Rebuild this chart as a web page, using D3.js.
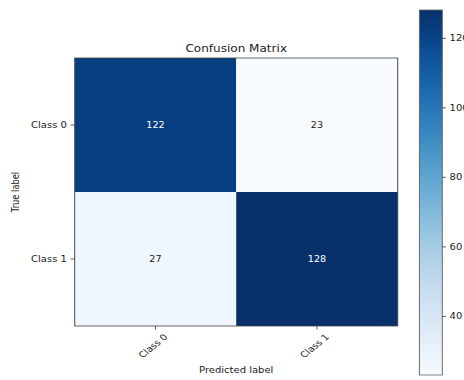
<!DOCTYPE html>
<html>
<head>
<meta charset="utf-8">
<script src="https://cdn.jsdelivr.net/npm/d3@7"></script>
<style>
	body { margin: 0; background: #fff; }
	text { font-family: "DejaVu Sans", sans-serif; fill: #222; }
</style>
</head>
<body>
<svg id="chart"></svg>
<script>
// chart data
let classes = ['Class 0', 'Class 1'];
let matrix = [
	[122, 23],
	[27, 128]
];
let colorbarTicks = [40, 60, 80, 100, 120];

// the reference is a square plot stretched sideways, so draw in a
// narrower space and let the viewBox stretch it
let W = 385, H = 380;
let svg = d3.select('#chart')
	.attr('width', 464)
	.attr('height', 380)
	.attr('viewBox', '0 0 ' + W + ' ' + H)
	.attr('preserveAspectRatio', 'none');

let allValues = matrix.flat();
let vmin = d3.min(allValues), vmax = d3.max(allValues);
let color = d3.scaleSequential(d3.interpolateBlues).domain([vmin, vmax]);

let x = d3.scaleBand().domain(classes).range([62, 330]);
let y = d3.scaleBand().domain(classes).range([58, 326]);

// cells
let cells = [];
matrix.forEach((row, i) => {
	row.forEach((v, j) => {
		cells.push({row: classes[i], col: classes[j], value: v});
	});
});

svg.selectAll('rect.cell')
	.data(cells)
	.enter().append('rect')
	.attr('class', 'cell')
	.attr('x', d => x(d.col))
	.attr('y', d => y(d.row))
	.attr('width', x.bandwidth())
	.attr('height', y.bandwidth())
	.attr('fill', d => color(d.value));

let thresh = vmax / 2;
svg.selectAll('text.cellval')
	.data(cells)
	.enter().append('text')
	.attr('class', 'cellval')
	.attr('x', d => x(d.col) + x.bandwidth() / 2)
	.attr('y', d => y(d.row) + y.bandwidth() / 2)
	.attr('dy', '0.35em')
	.attr('text-anchor', 'middle')
	.style('font-size', '8px')
	.style('fill', d => d.value > thresh ? '#fff' : '#222')
	.text(d => d.value);

// frame around the matrix
svg.append('rect')
	.attr('x', 62).attr('y', 58)
	.attr('width', 268).attr('height', 268)
	.attr('fill', 'none')
	.attr('stroke', '#444')
	.attr('stroke-width', 0.8);

// axes
let yAxis = svg.append('g')
	.attr('transform', 'translate(62,0)')
	.call(d3.axisLeft(y).tickSize(3.5).tickPadding(3));
let xAxis = svg.append('g')
	.attr('transform', 'translate(0,326)')
	.call(d3.axisBottom(x).tickSize(3.5).tickPadding(3));

[xAxis, yAxis].forEach(g => {
	g.select('.domain').remove();
	g.selectAll('line').attr('stroke', '#444').attr('stroke-width', 0.8);
	g.selectAll('text').style('font-size', '8.3px').style('fill', '#222')
		.attr('font-family', null);
});

xAxis.selectAll('text')
	.attr('text-anchor', 'middle')
	.attr('y', 0).attr('dy', 0)
	.attr('transform', 'translate(0,22) rotate(-45)');

// titles
svg.append('text')
	.attr('x', 196).attr('y', 52)
	.attr('text-anchor', 'middle')
	.style('font-size', '10px')
	.text('Confusion Matrix');

svg.append('text')
	.attr('x', 196).attr('y', 373)
	.attr('text-anchor', 'middle')
	.style('font-size', '8.3px')
	.text('Predicted label');

svg.append('text')
	.attr('transform', 'translate(16,192) rotate(-90)')
	.attr('text-anchor', 'middle')
	.style('font-size', '8.3px')
	.text('True label');

// colorbar
let cbX = 348, cbW = 19;
let cbScale = d3.scaleLinear().domain([vmin, vmax]).range([375, 10]);

let grad = svg.append('defs').append('linearGradient')
	.attr('id', 'cbgrad')
	.attr('x1', 0).attr('y1', 1).attr('x2', 0).attr('y2', 0);
d3.range(0, 1.0001, 0.1).forEach(t => {
	grad.append('stop')
		.attr('offset', t)
		.attr('stop-color', d3.interpolateBlues(t));
});

svg.append('rect')
	.attr('x', cbX).attr('y', 10)
	.attr('width', cbW).attr('height', 365)
	.attr('fill', 'url(#cbgrad)')
	.attr('stroke', '#666')
	.attr('stroke-width', 0.8);

let cbAxis = svg.append('g')
	.attr('transform', 'translate(' + (cbX + cbW) + ',0)')
	.call(d3.axisRight(cbScale).tickValues(colorbarTicks).tickSize(3).tickPadding(3));
cbAxis.select('.domain').remove();
cbAxis.selectAll('line').attr('stroke', '#444').attr('stroke-width', 0.8);
cbAxis.selectAll('text').style('font-size', '8.3px').style('fill', '#222')
	.attr('font-family', null);
</script>
</body>
</html>
